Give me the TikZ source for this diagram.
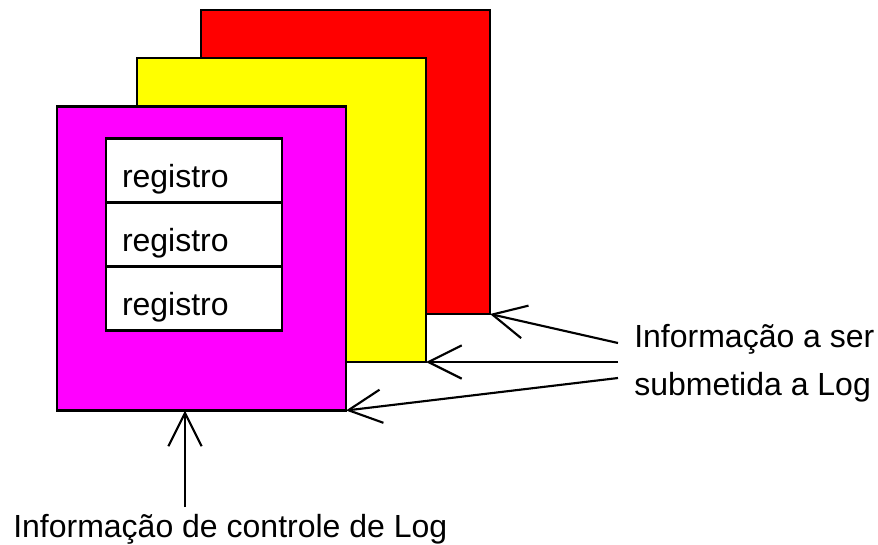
\documentclass[tikz,border=0pt]{standalone}
\usepackage{fontspec}
\setmainfont{Liberation Sans}
\usetikzlibrary{positioning}
\usetikzlibrary{calc}
\usetikzlibrary{arrows.meta}
\definecolor{pagred}{RGB}{255,0,0}
\definecolor{pagyellow}{RGB}{255,255,0}
\definecolor{pagmagenta}{RGB}{255,0,255}
\tikzset{pag/.style={
		rectangle,
		draw,
		line width=1.6pt,
		inner sep = 0pt,
		outer sep = 0pt,
		minimum width=216.75pt,
		minimum height=228pt,
	}
}
\tikzset{reg/.style={
		rectangle,
		draw,
		fill=white,
		line width=1.6pt,
		inner xsep = 12pt,
		inner ysep = 0pt,
		outer sep = 0pt,
		text width=108pt,
		align=left,
		text height=24.75pt,
		text depth=0pt,
		minimum height=48pt,
		font=\fontsize{24}{29}\selectfont,
	}
}
\tikzset{edge/.style={
		line width=1.6pt,
		-{Straight Barb[length=25pt, width=25pt]},
	}
}
\tikzset{lbl/.style={
		inner sep=0pt,
		anchor=base west,
		font=\fontsize{24}{29}\selectfont,
	}
}

\begin{document}
\begin{tikzpicture}[x=0.75pt, y=-0.75pt]
\useasboundingbox (0,0) rectangle (878,544);

% pages
\node[pag, fill=pagred] (pagR) at (345.5,162) {};
\node[pag, fill=pagyellow] (pagY) at ($(pagR)+(-64,48)$) {};
\node[pag, fill=pagmagenta] (pagM) at ($(pagY)+(-80,48.5)$) {};

% registers
\node[reg] (reg1) at (194,170.5) {registro};
\node[reg] (reg2) at (194,234.5) {registro};
\node[reg] (reg3) at (194,298.5) {registro};

% labels
\node[lbl] (infoA) at (634,347) {Informação a ser};
\node[lbl] (infoB) at (634,395) {submetida a Log};
\node[lbl] (ctl) at (13,537) {Informação de controle de Log};

\coordinate (s1) at (618,343);
\coordinate (s2) at (618,362);
\coordinate (s3) at (618,378);
\coordinate (s4) at (185,507);

\draw[edge] (s1) -- (pagR.south east);
\draw[edge] (s2) -- (pagY.south east);
\draw[edge] (s3) -- (pagM.south east);
\draw[edge] (s4) -- (s4 |- pagM.south);

\end{tikzpicture}
\end{document}
